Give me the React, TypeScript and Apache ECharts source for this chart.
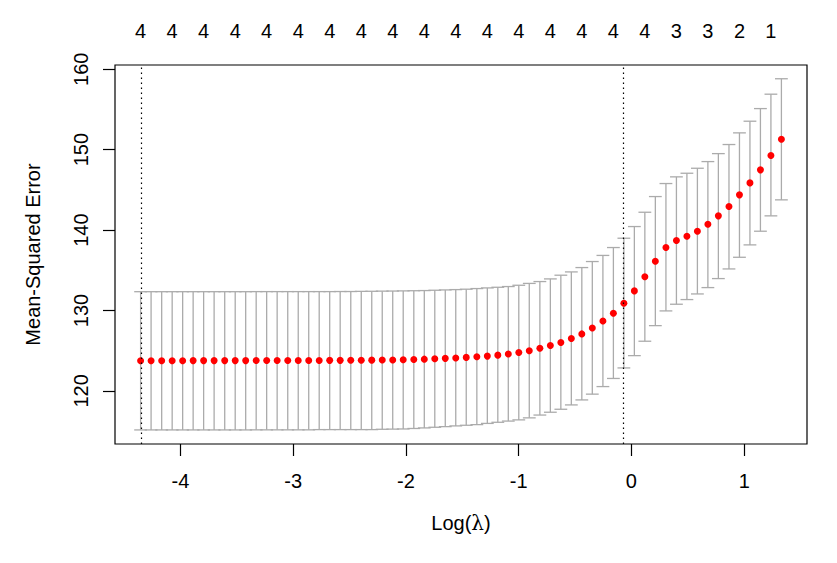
import React, { useEffect, useRef } from "react";
import * as echarts from "echarts";

// log(lambda) values, left to right
const logLambda = [
  -4.353, -4.26, -4.166, -4.073, -3.98, -3.887, -3.794, -3.701, -3.607, -3.514,
  -3.421, -3.328, -3.235, -3.142, -3.048, -2.955, -2.862, -2.769, -2.676, -2.583,
  -2.489, -2.396, -2.303, -2.21, -2.117, -2.024, -1.93, -1.837, -1.744, -1.651,
  -1.558, -1.465, -1.371, -1.278, -1.185, -1.092, -0.999, -0.906, -0.812, -0.719,
  -0.626, -0.533, -0.44, -0.347, -0.253, -0.16, -0.067, 0.026, 0.119, 0.212,
  0.306, 0.399, 0.492, 0.585, 0.678, 0.771, 0.865, 0.958, 1.051, 1.144,
  1.237, 1.33,
];

// cross-validated mean squared error
const cvm = [
  123.76, 123.76, 123.76, 123.76, 123.76, 123.77, 123.77, 123.77, 123.77, 123.77,
  123.77, 123.78, 123.78, 123.78, 123.78, 123.79, 123.79, 123.79, 123.8, 123.8,
  123.81, 123.82, 123.83, 123.84, 123.85, 123.87, 123.91, 123.95, 124.0, 124.05,
  124.1, 124.17, 124.24, 124.33, 124.45, 124.6, 124.77, 125.0, 125.3, 125.64,
  126.02, 126.52, 127.09, 127.82, 128.7, 129.67, 130.9, 132.44, 134.2, 136.13,
  137.83, 138.7, 139.24, 139.86, 140.73, 141.77, 142.93, 144.38, 145.87, 147.49,
  149.27, 151.3,
];

// upper error bar
const cvUp = [
  132.34, 132.34, 132.34, 132.34, 132.34, 132.34, 132.34, 132.34, 132.34, 132.34,
  132.34, 132.35, 132.35, 132.35, 132.35, 132.35, 132.35, 132.35, 132.35, 132.36,
  132.36, 132.38, 132.39, 132.41, 132.42, 132.44, 132.46, 132.48, 132.52, 132.56,
  132.6, 132.65, 132.73, 132.81, 132.89, 132.98, 133.14, 133.37, 133.6, 133.93,
  134.39, 134.8, 135.34, 136.09, 136.85, 137.83, 138.99, 140.44, 142.22, 144.17,
  145.79, 146.62, 147.07, 147.69, 148.52, 149.51, 150.64, 152.09, 153.54, 155.11,
  156.9, 158.82,
];

// lower error bar
const cvLo = [
  115.15, 115.15, 115.15, 115.15, 115.15, 115.15, 115.15, 115.15, 115.15, 115.15,
  115.15, 115.16, 115.16, 115.16, 115.16, 115.16, 115.16, 115.19, 115.19, 115.19,
  115.19, 115.19, 115.19, 115.23, 115.25, 115.27, 115.33, 115.4, 115.48, 115.56,
  115.65, 115.73, 115.81, 115.96, 116.1, 116.25, 116.4, 116.65, 117.0, 117.35,
  117.72, 118.26, 118.88, 119.6, 120.54, 121.55, 122.86, 124.39, 126.18, 128.12,
  129.95, 130.78, 131.36, 132.06, 132.85, 133.97, 135.17, 136.62, 138.16, 139.86,
  141.77, 143.76,
];

// number of non-zero coefficients at each lambda
const nonZero = [
  4, 4, 4, 4, 4, 4, 4, 4, 4, 4,
  4, 4, 4, 4, 4, 4, 4, 4, 4, 4,
  4, 4, 4, 4, 4, 4, 4, 4, 4, 4,
  4, 4, 4, 4, 4, 4, 4, 4, 4, 4,
  4, 4, 4, 4, 4, 4, 4, 4, 4, 4,
  3, 3, 3, 3, 3, 3, 2, 2, 2, 1,
  1, 1,
];

const xTicks = [-4, -3, -2, -1, 0, 1];
const yTicks = [120, 130, 140, 150, 160];
const lambdaMinIdx = 0;
const lambda1seIdx = 46;

export default function App() {
  const ref = useRef<HTMLDivElement>(null);

  useEffect(() => {
    if (!ref.current) return;
    const chart = echarts.init(ref.current, null, { renderer: "svg" });
    const font = "'Liberation Sans', Arial, Helvetica, sans-serif";
    const fs = 20;
    const topIdx = logLambda.map((_, i) => i).filter((i) => i % 3 === 0);
    const topVals = topIdx.map((i) => logLambda[i]);
    const barColor = "#ABABAB";
    const capHalf = 0.0568;

    const option: any = {
      animation: false,
      backgroundColor: "#ffffff",
      grid: {
        left: 115,
        top: 65,
        right: 30,
        bottom: 119,
        show: true,
        borderColor: "#000",
        borderWidth: 1.2,
        outerBoundsMode: "none",
        containLabel: false,
      },
      xAxis: [
        {
          type: "value",
          min: -4.58,
          max: 1.557,
          position: "bottom",
          splitLine: { show: false },
          axisLine: { show: false, onZero: false },
          axisTick: {
            show: true,
            customValues: xTicks,
            length: 12,
            inside: false,
            lineStyle: { color: "#000", width: 1.2 },
          },
          axisLabel: {
            customValues: xTicks,
            color: "#000",
            fontSize: fs,
            fontFamily: font,
            margin: 27,
          },
          name: "Log({l|λ})",
          nameLocation: "middle",
          nameGap: 69,
          nameTextStyle: {
            color: "#000",
            fontSize: fs,
            fontFamily: font,
            rich: {
              l: { fontFamily: "'DejaVu Serif', 'Liberation Serif', serif", fontSize: fs, color: "#000" },
            },
          },
        },
        {
          type: "value",
          min: -4.58,
          max: 1.557,
          position: "top",
          splitLine: { show: false },
          axisLine: { show: false, onZero: false },
          axisTick: { show: false },
          axisLabel: {
            customValues: topVals,
            color: "#000",
            fontSize: fs,
            fontFamily: font,
            margin: 24,
            formatter: (v: number) => {
              let best = 0;
              for (let i = 1; i < logLambda.length; i++) {
                if (Math.abs(logLambda[i] - v) < Math.abs(logLambda[best] - v)) best = i;
              }
              return String(nonZero[best]);
            },
          },
        },
      ],
      yAxis: {
        type: "value",
        min: 113.4,
        max: 160.53,
        position: "left",
        splitLine: { show: false },
        axisLine: { show: false, onZero: false },
        axisTick: {
          show: true,
          customValues: yTicks,
          length: 12,
          inside: false,
          lineStyle: { color: "#000", width: 1.2 },
        },
        axisLabel: {
          customValues: yTicks,
          rotate: 90,
          color: "#000",
          fontSize: fs,
          fontFamily: font,
          margin: 24,
        },
        name: "Mean-Squared Error",
        nameLocation: "middle",
        nameGap: 72,
        nameTextStyle: { color: "#000", fontSize: fs, fontFamily: font },
      },
      series: [
        {
          type: "custom",
          xAxisIndex: 0,
          data: logLambda.map((x, i) => [x, cvUp[i], cvLo[i]]),
          renderItem: (_params: any, api: any) => {
            const x = api.value(0);
            const up = api.value(1);
            const lo = api.value(2);
            const pUp = api.coord([x, up]);
            const pLo = api.coord([x, lo]);
            const hw = api.size([capHalf, 0])[0];
            const style = { stroke: barColor, lineWidth: 1.3, fill: "none" };
            return {
              type: "group",
              children: [
                { type: "line", shape: { x1: pUp[0], y1: pUp[1], x2: pLo[0], y2: pLo[1] }, style },
                { type: "line", shape: { x1: pUp[0] - hw, y1: pUp[1], x2: pUp[0] + hw, y2: pUp[1] }, style },
                { type: "line", shape: { x1: pLo[0] - hw, y1: pLo[1], x2: pLo[0] + hw, y2: pLo[1] }, style },
              ],
            };
          },
          z: 2,
        },
        {
          type: "scatter",
          xAxisIndex: 0,
          data: logLambda.map((x, i) => [x, cvm[i]]),
          symbol: "circle",
          symbolSize: 7,
          itemStyle: { color: "#FF0000", opacity: 1 },
          z: 4,
          markLine: {
            silent: true,
            symbol: "none",
            label: { show: false },
            lineStyle: { color: "#000", type: [1.5, 3.5], width: 1.2, opacity: 1 },
            data: [{ xAxis: logLambda[lambdaMinIdx] }, { xAxis: logLambda[lambda1seIdx] }],
          },
        },
      ],
    };
    chart.setOption(option);
    return () => chart.dispose();
  }, []);

  return (
    <div
      ref={ref}
      style={{ position: "absolute", left: 0, top: 0, width: 837, height: 563, background: "#fff" }}
    />
  );
}
